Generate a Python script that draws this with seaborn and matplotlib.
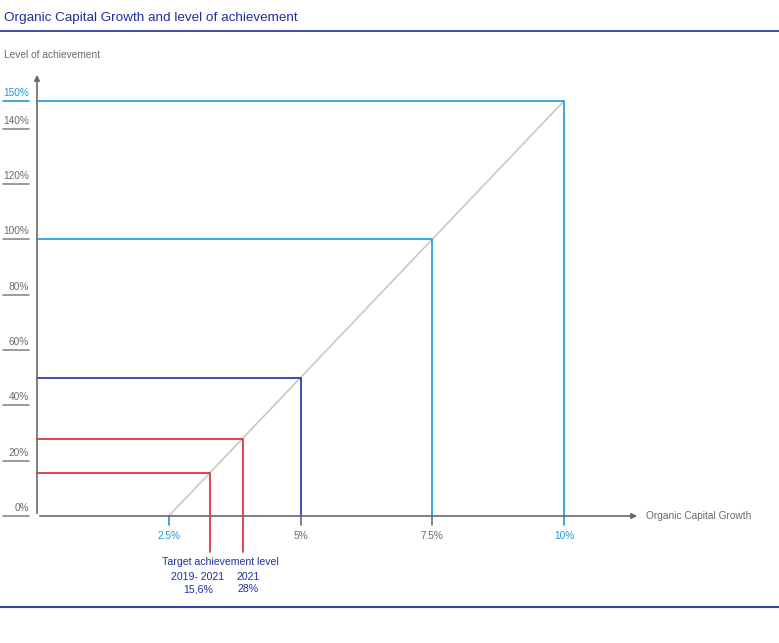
import matplotlib
matplotlib.use("Agg")
import matplotlib.pyplot as plt
import seaborn as sns
from matplotlib.lines import Line2D
import matplotlib.transforms as mtransforms

# data
growth_ticks = [2.5, 5, 7.5, 10]
growth_labels = ["2.5%", "5%", "7.5%", "10%"]
achievement_ticks = [0, 20, 40, 60, 80, 100, 120, 140, 150]
achievement_labels = ["0%", "20%", "40%", "60%", "80%", "100%", "120%", "140%", "150%"]
curve_growth = [2.5, 10]
curve_achievement = [0, 150]
# threshold boxes: growth, achievement
box_growth = [5, 7.5, 10]
box_achievement = [50, 100, 150]
# target achievement levels
target_achievement = [15.6, 28]
target_periods = ["2019- 2021", "2021"]
target_values = ["15,6%", "28%"]

CYAN = "#1c9ad6"
NAVY = "#1f2e9c"
RED = "#e0242b"
GREY = "#6a6a6a"
ULINE = "#8a8a8a"
LIGHT = "#c8c8c8"

sns.set_style("white")
plt.rcParams['font.family'] = ['Liberation Sans', 'DejaVu Sans']

W, H = 779, 643
fig = plt.figure(figsize=(W / 100, H / 100), dpi=100)

# axes placed so data origin sits at pixel (37, 516)
x0, y0 = 37, 516
px_per_x = 52.7
px_per_y = 2.767
x_end, y_end = 640, 72
ax = fig.add_axes([x0 / W, (H - y0) / H, (x_end - x0) / W, (y0 - y_end) / H])
ax.set_xlim(0, (x_end - x0) / px_per_x)
ax.set_ylim(0, (y0 - y_end) / px_per_y)
ax.axis("off")

# diagonal
sns.lineplot(x=curve_growth, y=curve_achievement, ax=ax, color=LIGHT, linewidth=1.2, legend=False)

# threshold boxes
box_colors = [NAVY, CYAN, CYAN]
for g, a, c in zip(box_growth, box_achievement, box_colors):
    ax.plot([0, g, g], [a, a, 0], color=c, linewidth=1.2, clip_on=False)

# target lines (extend below axis)
for a in target_achievement:
    g = curve_growth[0] + a / ((curve_achievement[1] - curve_achievement[0]) / (curve_growth[1] - curve_growth[0]))
    ax.plot([0, g, g], [a, a, -13], color=RED, linewidth=1.2, clip_on=False)

# axes arrows
ax.annotate("", xy=(0, 1), xytext=(0, 0), xycoords="axes fraction",
            arrowprops=dict(arrowstyle="-|>", color=GREY, lw=1.2, mutation_scale=8))
ax.annotate("", xy=(1, 0), xytext=(0, 0), xycoords="axes fraction",
            arrowprops=dict(arrowstyle="-|>", color=GREY, lw=1.2, mutation_scale=8))

# x ticks and labels
tick_colors = [CYAN, GREY, GREY, CYAN]
for g, lab, c in zip(growth_ticks, growth_labels, tick_colors):
    ax.plot([g, g], [0, -9 / px_per_y], color=c, linewidth=1.2, clip_on=False)
    ax.text(g, -20 / px_per_y, lab, color=c, fontsize=7.2, ha="center", va="center")

ax.text(1.01, 0, "Organic Capital Growth", transform=ax.transAxes, color=GREY,
        fontsize=7.3, ha="left", va="center")

# y tick labels (right aligned) with underline, placed in figure pixels horizontally
ytrans = mtransforms.blended_transform_factory(fig.transFigure, ax.transData)
for a, lab in zip(achievement_ticks, achievement_labels):
    c = CYAN if a == 150 else GREY
    uc = CYAN if a == 150 else ULINE
    ax.text(29 / W, a + 3 / px_per_y, lab, transform=ytrans, color=c, fontsize=7.3,
            ha="right", va="bottom")
    fig.add_artist(Line2D([3 / W, 29 / W], [a, a], transform=ytrans, color=uc, linewidth=1.2))

# target annotation
fig.text(220 / W, (H - 562) / H, "Target achievement level",
         color=NAVY, fontsize=7.6, ha="center", va="center")
for xpx, per, val in zip([198, 248], target_periods, target_values):
    fig.text(xpx / W, (H - 577) / H, per, color=NAVY, fontsize=7.6, ha="center", va="center")
    fig.text(xpx / W, (H - 589) / H, val, color=NAVY, fontsize=7.6, ha="center", va="center")

# title, header and footer rules
fig.text(4 / W, (H - 18) / H, "Organic Capital Growth and level of achievement",
         color=NAVY, fontsize=9.7, ha="left", va="center")
fig.text(4 / W, (H - 55) / H, "Level of achievement", color=GREY, fontsize=7.3, ha="left", va="center")
fig.add_artist(Line2D([0, 1], [(H - 31) / H] * 2, color=NAVY, linewidth=1.2))
fig.add_artist(Line2D([0, 1], [(H - 607) / H] * 2, color="#3a4a9a", linewidth=1.5))

fig.savefig("out.png", dpi=100)
